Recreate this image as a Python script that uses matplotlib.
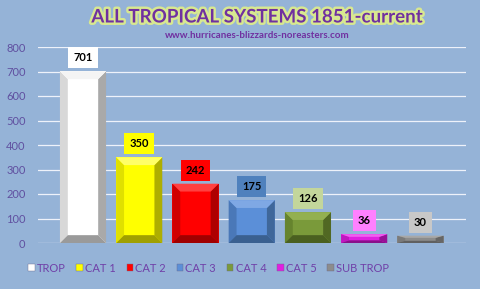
import matplotlib
matplotlib.use("Agg")
import matplotlib.pyplot as plt
import matplotlib.patheffects as pe
from matplotlib.patches import Polygon
import numpy as np

categories = ["TROP", "CAT 1", "CAT 2", "CAT 3", "CAT 4", "CAT 5", "SUB TROP"]
counts = [701, 350, 242, 175, 126, 36, 30]
face_colors = ["#FFFFFF", "#FFFF00", "#FF0000", "#5B8FD8", "#7A9A3A", "#E020E0", "#8C8C8C"]
light_colors = ["#F4F4F4", "#FFFF66", "#FF4040", "#7FA8E4", "#93B050", "#F060F0", "#A8A8A8"]
dark_colors = ["#9A9A9A", "#A0A000", "#A00000", "#3A6090", "#4A6020", "#8A108A", "#606060"]
side_colors = ["#D8D8D8", "#E0E000", "#D00000", "#4A78B8", "#66842E", "#C018C0", "#7A7A7A"]
label_bg = ["#FFFFFF", "#FFFF00", "#FF0000", "#4F81BD", "#C3D69B", "#FF80FF", "#C8C8C8"]
yticks = [0, 100, 200, 300, 400, 500, 600, 700, 800]

BG = "#95B3D7"
PURPLE = "#7030A0"
plt.rcParams["font.family"] = ["Lato", "DejaVu Sans"]

fig = plt.figure(figsize=(4.8, 2.89), dpi=100)
fig.patch.set_facecolor(BG)
ax = fig.add_axes([38 / 480, 1 - 243 / 289, 428 / 480, 196 / 289])
ax.set_facecolor(BG)

x = np.arange(len(categories))
width = 0.82
ax.set_xlim(-0.80, 6.81)
ax.set_ylim(0, 800)

bars = ax.bar(x, counts, width=width, color=face_colors, zorder=3, linewidth=0)

# bevel edges
for xi, h, lc, dc, sc in zip(x, counts, light_colors, dark_colors, side_colors):
    l, r = xi - width / 2, xi + width / 2
    bx = 0.14
    by = min(32, h * 0.3)
    top = Polygon([(l, h), (r, h), (r - bx, h - by), (l + bx, h - by)], closed=True,
                  facecolor=lc, edgecolor="none", zorder=4)
    bot = Polygon([(l, 0), (r, 0), (r - bx, by), (l + bx, by)], closed=True,
                  facecolor=dc, edgecolor="none", zorder=4)
    left = Polygon([(l, 0), (l + bx, by), (l + bx, h - by), (l, h)], closed=True,
                   facecolor=sc, edgecolor="none", zorder=4)
    right = Polygon([(r, 0), (r - bx, by), (r - bx, h - by), (r, h)], closed=True,
                    facecolor=dc, edgecolor="none", zorder=4, alpha=0.85)
    for p in (left, right, top, bot):
        ax.add_patch(p)

for xi, h, bg in zip(x, counts, label_bg):
    ax.text(xi, h + 55, str(h), ha="center", va="center", fontsize=8,
            fontweight="bold", color="black", zorder=5,
            bbox=dict(boxstyle="square,pad=0.45", facecolor=bg, edgecolor="none"))

ax.set_yticks(yticks)
ax.set_xticks([])
ax.tick_params(axis="y", length=0, labelsize=8, labelcolor="#6050A0", pad=9)
ax.grid(axis="y", color="#EEF2FA", linewidth=0.9, zorder=0)
for s in ax.spines.values():
    s.set_visible(False)

# legend
handles = [plt.Rectangle((0, 0), 1, 1, facecolor=c, edgecolor="#6A6A8A", linewidth=0.3)
           for c in face_colors]
fig.legend(handles, categories, loc="center left", bbox_to_anchor=(18 / 480, 1 - 268 / 289),
           ncol=7, frameon=False, fontsize=8, labelcolor="#7040A8",
           handlelength=0.6, handleheight=0.6, handletextpad=0.2, columnspacing=0.95)

fig.text(257 / 480, 1 - 17 / 289, "ALL TROPICAL SYSTEMS 1851-current", ha="center",
         va="center", fontsize=13.5, fontweight="bold", color=PURPLE,
         path_effects=[pe.withStroke(linewidth=3.5, foreground="#D8E890")])
fig.text(257 / 480, 1 - 36 / 289, "www.hurricanes-blizzards-noreasters.com", ha="center",
         va="center", fontsize=7, fontweight="bold", color=PURPLE)

fig.savefig("out.png", dpi=100, facecolor=BG)
